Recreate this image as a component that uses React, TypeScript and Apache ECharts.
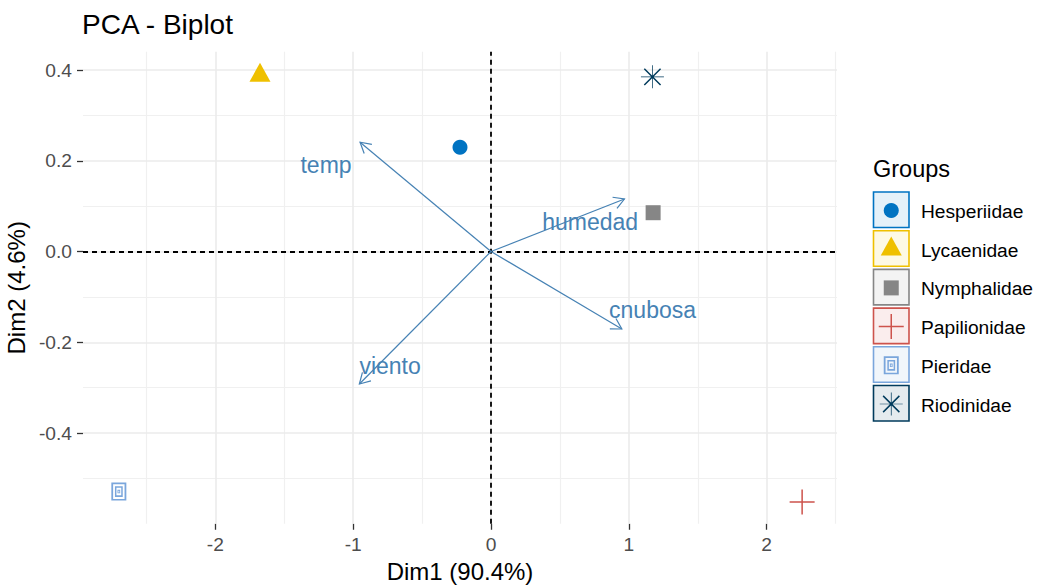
import React, { useEffect, useRef } from "react";
import * as echarts from "echarts";

// ---------- data ----------
const groups = ["Hesperiidae", "Lycaenidae", "Nymphalidae", "Papilionidae", "Pieridae", "Riodinidae"];
const dim1 = [-0.225, -1.676, 1.176, 2.257, -2.7, 1.171];
const dim2 = [0.2296, 0.388, 0.0855, -0.552, -0.529, 0.385];

const variables = ["temp", "humedad", "cnubosa", "viento"];
const varDim1 = [-0.95, 0.968, 0.949, -0.955];
const varDim2 = [0.2407, 0.1157, -0.1708, -0.292];
const varLabelDim1 = [-1.197, 0.719, 1.172, -0.732];
const varLabelDim2 = [0.1899, 0.065, -0.1296, -0.2523];

const xTicks = [-2, -1, 0, 1, 2];
const yTicks = [-0.4, -0.2, 0, 0.2, 0.4];
const xMinorGrid = [-2.5, -1.5, -0.5, 0.5, 1.5, 2.5];
const yMinorGrid = [-0.5, -0.3, -0.1, 0.1, 0.3];

const X_MIN = -2.96;
const X_MAX = 2.51;
const Y_MIN = -0.6;
const Y_MAX = 0.44;

// ---------- styles ----------
const FONT = "'Liberation Sans', Arial, sans-serif";
const palette = ["#0073C2", "#EFC000", "#868686", "#CD534C", "#7AA6DC", "#003B5C"];
const ARROW = "#4682B4";

const PLUS_D = "M47,0H53V47H100V53H53V100H47V53H0V47H47Z";
const PIERIDAE_D =
  "M0,0H100V100H0Z M12,9V91H88V9Z M24,20H76V80H24Z M34,29V71H66V29Z M41,40H59V60H41Z M47,45V55H53V45Z";
const ASTER_D =
  "M48.4,0H51.6V100H48.4Z M0,48.4H100V51.6H0Z " +
  "M12.38,16.9L16.9,12.38L87.62,83.1L83.1,87.62Z " +
  "M83.1,12.38L87.62,16.9L16.9,87.62L12.38,83.1Z";

echarts.graphic.registerShape("plusSym", echarts.graphic.extendPath(PLUS_D, {}));
echarts.graphic.registerShape("pieridaeSym", echarts.graphic.extendPath(PIERIDAE_D, {}));
echarts.graphic.registerShape("asterSym", echarts.graphic.extendPath(ASTER_D, {}));

type SymCfg = { symbol: string; size: number[]; offset: number[] };
const symbols: SymCfg[] = [
  { symbol: "circle", size: [15, 15], offset: [0, 0] },
  { symbol: "triangle", size: [21, 19], offset: [0, -3.2] },
  { symbol: "rect", size: [15, 15], offset: [0, 0] },
  { symbol: "path://" + PLUS_D, size: [25, 25], offset: [0, 0] },
  { symbol: "path://" + PIERIDAE_D, size: [15, 18], offset: [0, 0] },
  { symbol: "path://" + ASTER_D, size: [23, 23], offset: [0, 0] },
];

function hexAlpha(hex: string, a: number) {
  const r = parseInt(hex.slice(1, 3), 16);
  const g = parseInt(hex.slice(3, 5), 16);
  const b = parseInt(hex.slice(5, 7), 16);
  return `rgba(${r},${g},${b},${a})`;
}

function legendSymbol(i: number, cx: number, cy: number): any {
  const color = palette[i];
  const [w, h] = symbols[i].size;
  switch (i) {
    case 0:
      return { type: "circle", shape: { cx, cy, r: w / 2 }, style: { fill: color } };
    case 1:
      return {
        type: "polygon",
        shape: { points: [[cx, cy - 12.7], [cx + 10.5, cy + 6.3], [cx - 10.5, cy + 6.3]] },
        style: { fill: color },
      };
    case 2:
      return { type: "rect", shape: { x: cx - w / 2, y: cy - h / 2, width: w, height: h }, style: { fill: color } };
    case 3:
      return { type: "plusSym", x: cx - w / 2, y: cy - h / 2, scaleX: w / 100, scaleY: h / 100, style: { fill: color } };
    case 4:
      return { type: "pieridaeSym", x: cx - w / 2, y: cy - h / 2, scaleX: w / 100, scaleY: h / 100, style: { fill: color } };
    default:
      return { type: "asterSym", x: cx - w / 2, y: cy - h / 2, scaleX: w / 100, scaleY: h / 100, style: { fill: color } };
  }
}

function buildLegend(): any[] {
  const els: any[] = [
    {
      type: "text",
      x: 873,
      y: 169,
      style: { text: "Groups", fill: "#000", fontSize: 23.5, fontFamily: FONT, align: "left", verticalAlign: "middle" },
    },
  ];
  groups.forEach((g, i) => {
    const c = 210 + 38.7 * i;
    els.push({
      type: "rect",
      shape: { x: 873.5, y: c - 18, width: 35.5, height: 35.5 },
      style: { fill: hexAlpha(palette[i], 0.1), stroke: palette[i], lineWidth: 1.6 },
    });
    els.push(legendSymbol(i, 891.25, c + 0.5));
    els.push({
      type: "text",
      x: 921,
      y: c + 1.5,
      style: { text: g, fill: "#000", fontSize: 19.2, fontFamily: FONT, align: "left", verticalAlign: "middle" },
    });
  });
  return els;
}

function gridLine(values: number[], axis: "xAxis" | "yAxis", color: string, width: number) {
  return values.map((v) => ({ [axis]: v, lineStyle: { color, width, type: "solid" } }));
}

export default function App() {
  const ref = useRef<HTMLDivElement>(null);

  useEffect(() => {
    if (!ref.current) return;
    const chart = echarts.init(ref.current, null, { renderer: "svg" });

    const scatterSeries = groups.map((g, i) => ({
      name: g,
      type: "scatter",
      z: 10,
      data: [[dim1[i], dim2[i]]],
      symbol: symbols[i].symbol,
      symbolSize: symbols[i].size,
      symbolOffset: symbols[i].offset,
      itemStyle: { color: palette[i], opacity: 1 },
      silent: true,
    }));

    const option: any = {
      animation: false,
      textStyle: { fontFamily: FONT },
      title: {
        text: "PCA - Biplot",
        left: 82,
        top: 10,
        padding: 0,
        textStyle: { fontSize: 28, fontWeight: "normal", color: "#000", fontFamily: FONT },
      },
      grid: { left: 83, right: 204, top: 51.85, bottom: 63.25, containLabel: false, outerBoundsMode: "none" },
      xAxis: {
        type: "value",
        min: X_MIN,
        max: X_MAX,
        name: "Dim1 (90.4%)",
        nameLocation: "middle",
        nameGap: 36,
        nameTextStyle: { fontSize: 24, color: "#000", fontFamily: FONT },
        axisLine: { show: false, onZero: false },
        splitLine: { show: false },
        axisTick: { show: true, customValues: xTicks, length: 6, lineStyle: { color: "#333333", width: 1.3 } },
        axisLabel: {
          customValues: xTicks,
          formatter: (v: number) => String(Math.round(v)),
          color: "#4D4D4D",
          fontSize: 19.2,
          margin: 11,
          fontFamily: FONT,
        },
      },
      yAxis: {
        type: "value",
        min: Y_MIN,
        max: Y_MAX,
        name: "Dim2 (4.6%)",
        nameLocation: "middle",
        nameGap: 48,
        nameTextStyle: { fontSize: 24, color: "#000", fontFamily: FONT },
        axisLine: { show: false, onZero: false },
        splitLine: { show: false },
        axisTick: { show: true, customValues: yTicks, length: 6, lineStyle: { color: "#333333", width: 1.3 } },
        axisLabel: {
          customValues: yTicks,
          formatter: (v: number) => v.toFixed(1),
          color: "#4D4D4D",
          fontSize: 19.2,
          margin: 11,
          fontFamily: FONT,
        },
      },
      series: [
        {
          type: "line",
          data: [],
          z: 1,
          silent: true,
          markLine: {
            silent: true,
            symbol: ["none", "none"],
            label: { show: false },
            animation: false,
            emphasis: { disabled: true },
            data: [
              ...gridLine(xMinorGrid, "xAxis", "#F0F0F0", 1.2),
              ...gridLine(yMinorGrid, "yAxis", "#F0F0F0", 1.2),
              ...gridLine(xTicks, "xAxis", "#EBEBEB", 1.6),
              ...gridLine(yTicks, "yAxis", "#EBEBEB", 1.6),
            ],
          },
        },
        {
          type: "line",
          data: [],
          z: 3,
          silent: true,
          markLine: {
            silent: true,
            symbol: ["none", "none"],
            label: { show: false },
            animation: false,
            emphasis: { disabled: true },
            data: [
              { xAxis: 0, lineStyle: { color: "#000", width: 1.8, type: [5, 4] } },
              { yAxis: 0, lineStyle: { color: "#000", width: 1.8, type: [5, 4] } },
            ],
          },
        },
        {
          type: "custom",
          coordinateSystem: "cartesian2d",
          silent: true,
          z: 5,
          data: variables.map((_, i) => [varDim1[i], varDim2[i], varLabelDim1[i], varLabelDim2[i]]),
          encode: { x: [0, 2], y: [1, 3] },
          renderItem: (params: any, api: any) => {
            const o = api.coord([0, 0]);
            const t = api.coord([api.value(0), api.value(1)]);
            const l = api.coord([api.value(2), api.value(3)]);
            const ang = Math.atan2(t[1] - o[1], t[0] - o[0]);
            const len = 12;
            const a = Math.PI / 6;
            const h1 = [t[0] - len * Math.cos(ang - a), t[1] - len * Math.sin(ang - a)];
            const h2 = [t[0] - len * Math.cos(ang + a), t[1] - len * Math.sin(ang + a)];
            return {
              type: "group",
              children: [
                { type: "line", shape: { x1: o[0], y1: o[1], x2: t[0], y2: t[1] }, style: { stroke: ARROW, lineWidth: 1.2 } },
                { type: "polyline", shape: { points: [h1, t, h2] }, style: { stroke: ARROW, lineWidth: 1.2, fill: null } },
                {
                  type: "text",
                  x: l[0],
                  y: l[1],
                  style: {
                    text: variables[params.dataIndex],
                    fill: ARROW,
                    fontSize: 23,
                    fontFamily: FONT,
                    align: "center",
                    verticalAlign: "middle",
                  },
                },
              ],
            };
          },
        },
        ...scatterSeries,
      ],
      graphic: buildLegend(),
    };

    chart.setOption(option);
    return () => chart.dispose();
  }, []);

  return (
    <div
      ref={ref}
      style={{ position: "fixed", left: 0, top: 0, width: 1041, height: 587, background: "#fff" }}
    />
  );
}
